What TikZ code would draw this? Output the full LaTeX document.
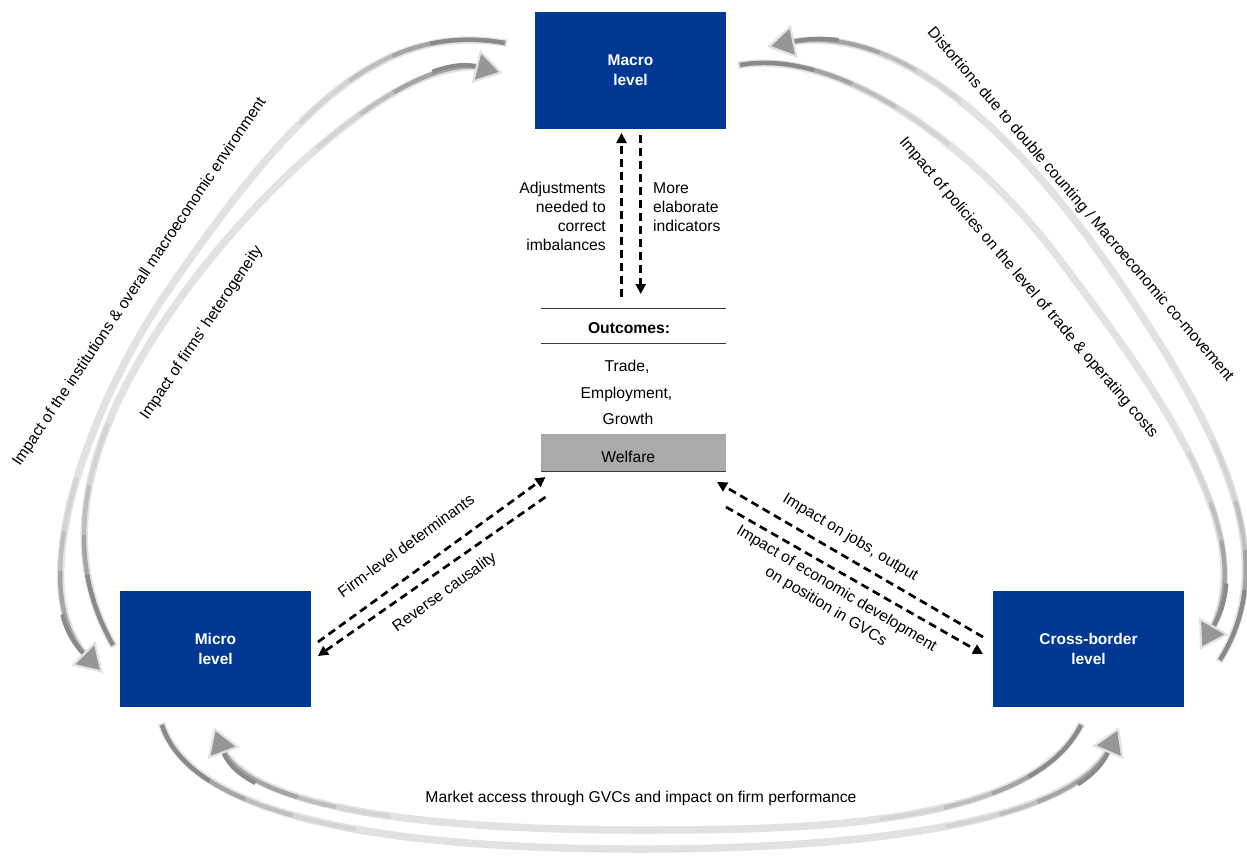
\documentclass[tikz,border=0pt]{standalone}
\usepackage{fontspec}
\setmainfont{Liberation Sans}
\usetikzlibrary{arrows.meta}
\definecolor{ecbblue}{RGB}{0,56,147}
\definecolor{halo}{RGB}{226,226,226}
\definecolor{coreA}{RGB}{212,212,212}
\definecolor{coreB}{RGB}{190,190,190}
\definecolor{coreC}{RGB}{164,164,164}
\definecolor{coredark}{RGB}{138,138,138}
\definecolor{tipgray}{RGB}{150,150,150}
\definecolor{welfaregray}{RGB}{170,170,170}
\definecolor{rulegray}{RGB}{60,60,60}
\newcommand\lblfont{\fontsize{15.7}{18.8}\selectfont}
% tail, c1, c2, mid, c3, c4, head
\newcommand\garrow[7]{%
  \draw[halostroke, shorten <=-2pt, shorten >=18pt] #1 .. controls #2 and #3 .. #4 .. controls #5 and #6 .. #7;
  \draw[corestroke, draw=coreA, dash pattern=on 230pt off 10000pt] #1 .. controls #2 and #3 .. #4 .. controls #5 and #6 .. #7;
  \draw[corestroke, draw=coreB, dash pattern=on 165pt off 10000pt] #1 .. controls #2 and #3 .. #4 .. controls #5 and #6 .. #7;
  \draw[corestroke, draw=coreC, dash pattern=on 115pt off 10000pt] #1 .. controls #2 and #3 .. #4 .. controls #5 and #6 .. #7;
  \draw[corestroke, draw=coredark, dash pattern=on 75pt off 10000pt] #1 .. controls #2 and #3 .. #4 .. controls #5 and #6 .. #7;
  \draw[corestroke, draw=coreA, shorten <=20pt, dash pattern=on 190pt off 10000pt] #7 .. controls #6 and #5 .. #4 .. controls #3 and #2 .. #1;
  \draw[corestroke, draw=coreB, shorten <=20pt, dash pattern=on 135pt off 10000pt] #7 .. controls #6 and #5 .. #4 .. controls #3 and #2 .. #1;
  \draw[corestroke, draw=coreC, shorten <=20pt, dash pattern=on 95pt off 10000pt] #7 .. controls #6 and #5 .. #4 .. controls #3 and #2 .. #1;
  \draw[corestroke, draw=coredark, {bigtip}-, dash pattern=on 45pt off 10000pt] #7 .. controls #6 and #5 .. #4 .. controls #3 and #2 .. #1;
}
\tikzset{
  bigtip/.tip={Triangle[length=28pt,width=34pt,fill=tipgray,color=halo,line width=2.2pt]},
  halostroke/.style={draw=halo, line width=7.5pt},
  corestroke/.style={line width=4.2pt},
  levelbox/.style={fill=ecbblue, text=white, font=\fontsize{15.5}{20}\selectfont\bfseries, align=center,
    minimum width=191pt, minimum height=116pt, inner sep=0pt},
  lbl/.style={font=\lblfont, inner sep=0pt, text height=11pt, text depth=3.5pt},
  lblm/.style={font=\lblfont, inner sep=0pt},
  rule/.style={draw=rulegray, line width=1.1pt},
  dasharrow/.style={line width=2.7pt, dash pattern=on 8pt off 5pt, -{Triangle[length=10pt,width=10pt]}}
}
\begin{document}
\begin{tikzpicture}[x=1pt,y=-1pt]
\useasboundingbox (0,0) rectangle (1247,855);
% ---- big grey curved arrows
\coordinate (l1t) at (505,43);   \coordinate (l1h) at (103,673);
\coordinate (l2t) at (113,645);  \coordinate (l2h) at (503,73);
\coordinate (r1t) at (1220,660); \coordinate (r1h) at (767,47);
\coordinate (r2t) at (740,65);   \coordinate (r2h) at (1200,650);
\coordinate (b1t) at (162,725);  \coordinate (b1h) at (1119,727);
\coordinate (b2t) at (1081,725); \coordinate (b2h) at (214,727);
\garrow{(l1t)}{(379,21)}{(291,111)}{(165,295)}{(102,387)}{(14,584)}{(l1h)}
\garrow{(l2t)}{(48,532)}{(100,405)}{(190,285)}{(275,171)}{(414,51)}{(l2h)}
\garrow{(r1t)}{(1284,558)}{(1220,432)}{(1125,290)}{(1027,143)}{(902,19)}{(r1h)}
\garrow{(r2t)}{(839,47)}{(975,146)}{(1060,260)}{(1155,386)}{(1265,537)}{(r2h)}
\garrow{(b1t)}{(194,825)}{(419,849)}{(640,849)}{(860,849)}{(1077,824)}{(b1h)}
\garrow{(b2t)}{(1030,828)}{(797,830)}{(640,830)}{(481,830)}{(248,818)}{(b2h)}
% ---- level boxes
\node[levelbox, minimum height=117pt] (macro) at (630.5,70.5) {Macro\\level};
\node[levelbox] (micro) at (215.5,648.8) {Micro\\level};
\node[levelbox] (cross) at (1088.5,648.8) {Cross-border\\level};
% ---- outcomes
\node[minimum width=184.7pt, minimum height=35pt, inner sep=0pt] (outhead) at (633.4,325.8) {};
\draw[rule] (outhead.north west) -- (outhead.north east);
\draw[rule] (outhead.south west) -- (outhead.south east);
\node[lbl, font=\lblfont\bfseries] (outtitle) at (629,329.5) {Outcomes:};
\node[lbl] (trade) at (627,368) {Trade,};
\node[lbl] (employ) at (626.5,395) {Employment,};
\node[lbl] (growth) at (628,421) {Growth};
\node[fill=welfaregray, minimum width=184.7pt, minimum height=37.5pt, inner sep=0pt] (welfare) at (633.4,452.75) {};
\draw[rule] (welfare.south west) -- (welfare.south east);
\node[lbl] (welfaretxt) at (628.3,459) {Welfare};
% ---- vertical dashed arrows
\coordinate (upS) at (621.5,297); \coordinate (upE) at (621.5,133);
\coordinate (dnS) at (640.7,135); \coordinate (dnE) at (640.7,294);
\draw[dasharrow] (upS) -- (upE);
\draw[dasharrow] (dnS) -- (dnE);
\node[lblm, align=right, anchor=east] (adjust) at (606,216.5) {Adjustments\\needed to\\correct\\imbalances};
\node[lblm, align=left, anchor=west] (moreind) at (653,207.2) {More\\elaborate\\indicators};
% ---- diagonal dashed arrows
\coordinate (fl1) at (318,642);   \coordinate (fl2) at (545.5,477);
\coordinate (rc1) at (545.5,497); \coordinate (rc2) at (318,656);
\coordinate (jo1) at (983,637);   \coordinate (jo2) at (717,482);
\coordinate (ec1) at (726,507);   \coordinate (ec2) at (983,654);
\draw[dasharrow] (fl1) -- (fl2);
\draw[dasharrow] (rc1) -- (rc2);
\draw[dasharrow] (jo1) -- (jo2);
\draw[dasharrow] (ec1) -- (ec2);
\node[lbl, rotate=36] (firmlbl) at (407,547) {Firm-level determinants};
\node[lbl, rotate=36] (revlbl) at (445,593) {Reverse causality};
\node[lbl, rotate=-31] (jobslbl) at (850,538) {Impact on jobs, output};
\node[lblm, rotate=-31, align=center] (econlbl) at (831,598) {Impact of economic development\\[2pt]on position in GVCs};
% ---- big arrow labels
\node[lbl, rotate=56] (instlbl) at (140,282) {Impact of the institutions \& overall macroeconomic environment};
\node[lbl, rotate=56] (hetlbl) at (202,333) {Impact of firms' heterogeneity};
\node[lbl, rotate=-49.3] (distlbl) at (1080,205) {Distortions due to double counting / Macroeconomic co-movement};
\node[lbl, rotate=-49.5] (pollbl) at (1028,288) {Impact of policies on the level of trade \& operating costs};
\node[lbl] (marketlbl) at (641,798.5) {Market access through GVCs and impact on firm performance};
\end{tikzpicture}
\end{document}
